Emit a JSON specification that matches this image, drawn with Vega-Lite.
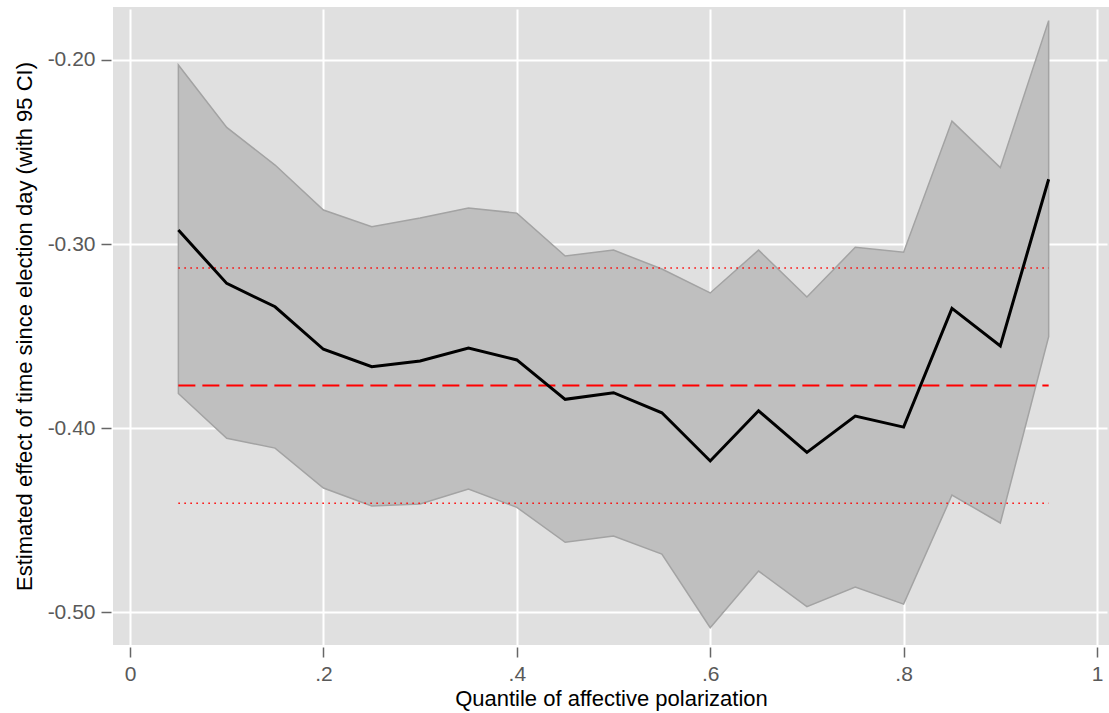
{
  "$schema": "https://vega.github.io/schema/vega-lite/v6.json",
  "width": 996,
  "height": 638,
  "autosize": "none",
  "padding": {"left": 113, "top": 7, "right": 0, "bottom": 68},
  "background": "white",
  "config": {
    "view": {"fill": "#e0e0e0", "stroke": null},
    "font": "Liberation Sans",
    "axis": {
      "domain": false,
      "gridColor": "white",
      "gridWidth": 2,
      "gridOpacity": 1,
      "tickColor": "#666666",
      "tickSize": 10,
      "tickWidth": 1.5,
      "offset": 2,
      "labelColor": "#595959",
      "labelFont": "Liberation Sans",
      "labelFontSize": 21,
      "titleFont": "Liberation Sans",
      "titleFontSize": 22,
      "titleFontWeight": "normal",
      "titleColor": "black"
    }
  },
  "datasets": {
    "est": [
      {"q": 0.05, "est": -0.2924, "lo": -0.3812, "hi": -0.2027},
      {"q": 0.10, "est": -0.3214, "lo": -0.4056, "hi": -0.2366},
      {"q": 0.15, "est": -0.3341, "lo": -0.4109, "hi": -0.2571},
      {"q": 0.20, "est": -0.3572, "lo": -0.4326, "hi": -0.2815},
      {"q": 0.25, "est": -0.3667, "lo": -0.4424, "hi": -0.2906},
      {"q": 0.30, "est": -0.3636, "lo": -0.4413, "hi": -0.2859},
      {"q": 0.35, "est": -0.3565, "lo": -0.4332, "hi": -0.2804},
      {"q": 0.40, "est": -0.3630, "lo": -0.4431, "hi": -0.2832},
      {"q": 0.45, "est": -0.3844, "lo": -0.4621, "hi": -0.3065},
      {"q": 0.50, "est": -0.3808, "lo": -0.4587, "hi": -0.3033},
      {"q": 0.55, "est": -0.3917, "lo": -0.4685, "hi": -0.3136},
      {"q": 0.60, "est": -0.4179, "lo": -0.5085, "hi": -0.3266},
      {"q": 0.65, "est": -0.3906, "lo": -0.4777, "hi": -0.3033},
      {"q": 0.70, "est": -0.4132, "lo": -0.4971, "hi": -0.3288},
      {"q": 0.75, "est": -0.3935, "lo": -0.4864, "hi": -0.3018},
      {"q": 0.80, "est": -0.3995, "lo": -0.4957, "hi": -0.3045},
      {"q": 0.85, "est": -0.3350, "lo": -0.4364, "hi": -0.2332},
      {"q": 0.90, "est": -0.3554, "lo": -0.4516, "hi": -0.2585},
      {"q": 0.95, "est": -0.2648, "lo": -0.3504, "hi": -0.1786}
    ],
    "refs": [
      {"kind": "mean", "y": -0.3769, "x1": 0.05, "x2": 0.95},
      {"kind": "upper", "y": -0.3130, "x1": 0.05, "x2": 0.95},
      {"kind": "lower", "y": -0.4409, "x1": 0.05, "x2": 0.95}
    ]
  },
  "layer": [
    {
      "data": {"name": "est"},
      "mark": {"type": "area", "fill": "#bfbfbf", "stroke": "#a3a3a3", "strokeWidth": 1.5},
      "encoding": {
        "x": {
          "field": "q", "type": "quantitative",
          "scale": {"domain": [-0.0176, 1.0124], "nice": false, "zero": false},
          "axis": {
            "values": [0, 0.2, 0.4, 0.6, 0.8, 1],
            "labelExpr": "replace(format(datum.value, '.1~f'), '0.', '.')",
            "title": "Quantile of affective polarization",
            "labelPadding": 6,
            "titlePadding": 4
          }
        },
        "y": {
          "field": "lo", "type": "quantitative",
          "scale": {"domain": [-0.5179, -0.1712], "nice": false, "zero": false},
          "axis": {
            "values": [-0.5, -0.4, -0.3, -0.2],
            "labelExpr": "replace(format(datum.value, '.2f'), '\u2212', '-')",
            "title": "Estimated effect of time since election day (with 95 CI)",
            "labelPadding": 6,
            "titlePadding": 11
          }
        },
        "y2": {"field": "hi"}
      }
    },
    {
      "data": {"name": "refs"},
      "transform": [{"filter": "datum.kind === 'mean'"}],
      "mark": {"type": "rule", "color": "#ff0000", "strokeWidth": 2, "strokeDash": [17, 7]},
      "encoding": {
        "x": {"field": "x1", "type": "quantitative"},
        "x2": {"field": "x2"},
        "y": {"field": "y", "type": "quantitative"}
      }
    },
    {
      "data": {"name": "refs"},
      "transform": [{"filter": "datum.kind !== 'mean'"}],
      "mark": {"type": "rule", "color": "#ff0000", "strokeWidth": 1.5, "strokeDash": [1.5, 4.5]},
      "encoding": {
        "x": {"field": "x1", "type": "quantitative"},
        "x2": {"field": "x2"},
        "y": {"field": "y", "type": "quantitative"},
        "detail": {"field": "kind"}
      }
    },
    {
      "data": {"name": "est"},
      "mark": {"type": "line", "color": "black", "strokeWidth": 3, "strokeJoin": "miter"},
      "encoding": {
        "x": {"field": "q", "type": "quantitative"},
        "y": {"field": "est", "type": "quantitative"}
      }
    }
  ]
}
